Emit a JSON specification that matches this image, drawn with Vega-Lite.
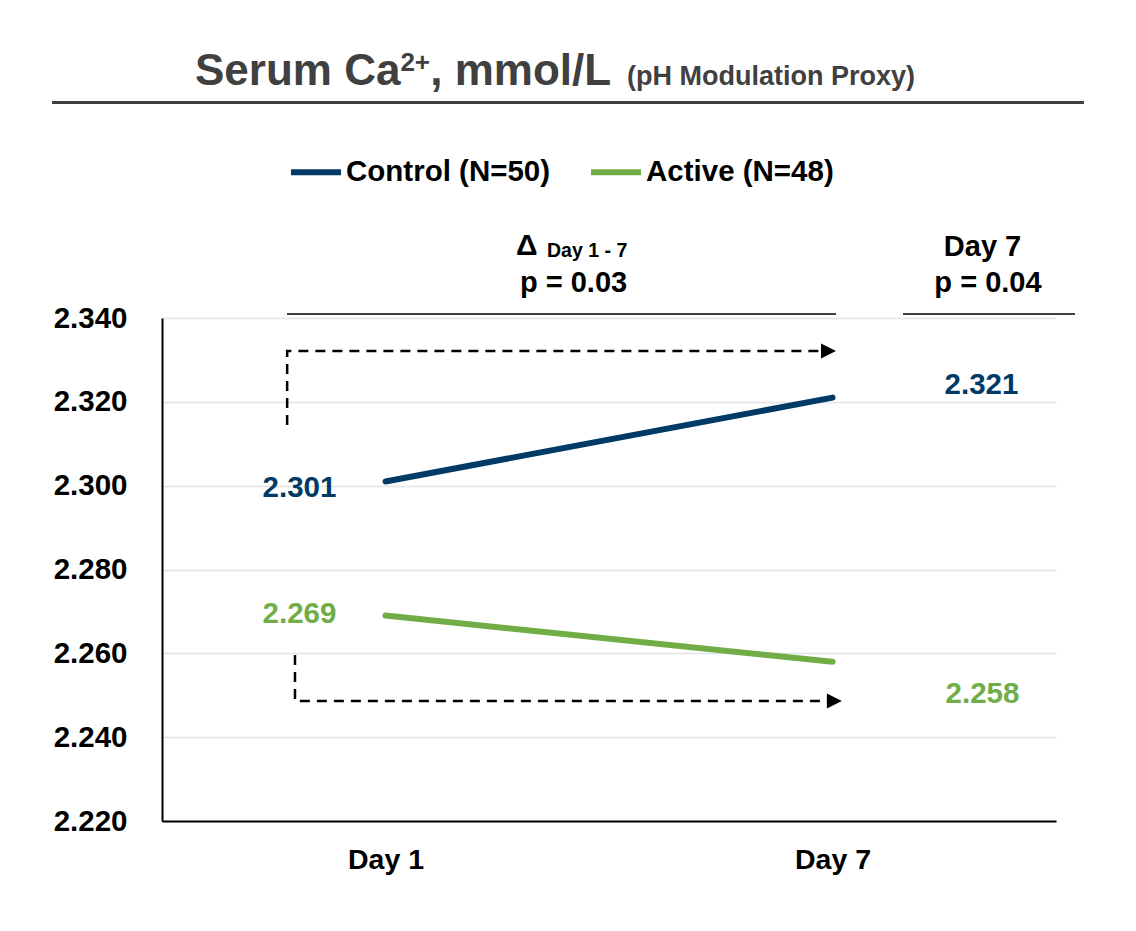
{
  "$schema": "https://vega.github.io/schema/vega-lite/v6.json",
  "width": 894,
  "height": 503,
  "autosize": {"type": "none"},
  "padding": {"left": 162, "top": 318, "right": 80, "bottom": 110},
  "background": "white",
  "config": {"view": {"stroke": null}, "font": "Liberation Sans"},
  "datasets": {
    "series": [
      {"group": "Control (N=50)", "day": 1, "value": 2.301},
      {"group": "Control (N=50)", "day": 7, "value": 2.321},
      {"group": "Active (N=48)", "day": 1, "value": 2.269},
      {"group": "Active (N=48)", "day": 7, "value": 2.258}
    ],
    "arrows": [
      {"arrow": "up", "step": 1, "x": -0.32, "y": 2.3145},
      {"arrow": "up", "step": 2, "x": -0.32, "y": 2.3321},
      {"arrow": "up", "step": 3, "x": 6.86, "y": 2.3321},
      {"arrow": "down", "step": 1, "x": -0.215, "y": 2.2596},
      {"arrow": "down", "step": 2, "x": -0.215, "y": 2.2486},
      {"arrow": "down", "step": 3, "x": 6.93, "y": 2.2486}
    ],
    "heads": [
      {"arrow": "up", "x": 6.946, "y": 2.3321},
      {"arrow": "down", "x": 7.025, "y": 2.2486}
    ],
    "rules": [
      {"role": "title", "x": -3.477, "x2": 10.376, "y": 2.39141},
      {"role": "header", "x": -0.322, "x2": 7.047, "y": 2.34095},
      {"role": "header", "x": 7.946, "x2": 10.255, "y": 2.34095}
    ],
    "notes": [
      {"role": "title", "label": "Serum Ca", "x": -1.557, "y": 2.39558},
      {"role": "sup", "label": "2+", "x": 1.2, "y": 2.3989},
      {"role": "title", "label": ", mmol/L", "x": 1.6, "y": 2.39558},
      {"role": "subtitle", "label": "(pH Modulation Proxy)", "x": 4.242, "y": 2.39558},
      {"role": "delta", "label": "Δ", "x": 2.752, "y": 2.35503},
      {"role": "sub", "label": "Day 1 - 7", "x": 3.168, "y": 2.35455},
      {"role": "header", "label": "p = 0.03", "x": 3.524, "y": 2.3462},
      {"role": "header", "label": "Day 7", "x": 9.014, "y": 2.35479},
      {"role": "header", "label": "p = 0.04", "x": 9.087, "y": 2.3462}
    ]
  },
  "layer": [
    {
      "data": {"name": "series"},
      "mark": {"type": "line", "strokeWidth": 6, "strokeCap": "round"},
      "encoding": {
        "x": {
          "field": "day", "type": "quantitative", "title": null,
          "scale": {"domain": [-2, 10], "zero": false, "nice": false},
          "axis": {
            "values": [1, 7], "labelExpr": "'Day ' + datum.value",
            "grid": false, "ticks": false, "domainColor": "black", "domainWidth": 2,
            "labelFont": "Liberation Sans", "labelFontWeight": "bold", "labelFontSize": 28.5,
            "labelColor": "black", "labelPadding": 24
          }
        },
        "y": {
          "field": "value", "type": "quantitative", "title": null,
          "scale": {"domain": [2.22, 2.34], "zero": false, "nice": false},
          "axis": {
            "values": [2.22, 2.24, 2.26, 2.28, 2.3, 2.32, 2.34], "format": ".3f",
            "grid": true, "gridColor": "#e3e3e3", "gridWidth": 1.5,
            "ticks": false, "domainColor": "black", "domainWidth": 2,
            "labelFont": "Liberation Sans", "labelFontWeight": "bold", "labelFontSize": 29.5,
            "labelColor": "black", "labelPadding": 35
          }
        },
        "color": {
          "field": "group", "type": "nominal",
          "scale": {"domain": ["Control (N=50)", "Active (N=48)"], "range": ["#003A66", "#70AD47"]},
          "legend": {
            "orient": "none", "legendX": 126, "legendY": -174, "direction": "horizontal",
            "title": null, "symbolType": "stroke", "symbolSize": 2500, "symbolStrokeWidth": 6,
            "labelFont": "Liberation Sans", "labelFontWeight": "bold", "labelFontSize": 29.5,
            "labelColor": "black", "labelOffset": 2, "labelLimit": 400, "columnPadding": 28, "padding": 0
          }
        }
      }
    },
    {
      "data": {"name": "series"},
      "transform": [{"filter": "datum.group == 'Control (N=50)' && datum.day == 1"}],
      "mark": {"type": "text", "font": "Liberation Sans", "fontWeight": "bold", "fontSize": 29.5, "color": "#003A66", "align": "center", "baseline": "middle", "dx": -86, "dy": 7},
      "encoding": {
        "x": {"field": "day", "type": "quantitative", "title": null},
        "y": {"field": "value", "type": "quantitative", "title": null},
        "text": {"field": "value", "type": "quantitative", "format": ".3f"}
      }
    },
    {
      "data": {"name": "series"},
      "transform": [{"filter": "datum.group == 'Active (N=48)' && datum.day == 1"}],
      "mark": {"type": "text", "font": "Liberation Sans", "fontWeight": "bold", "fontSize": 29.5, "color": "#70AD47", "align": "center", "baseline": "middle", "dx": -86, "dy": -2},
      "encoding": {
        "x": {"field": "day", "type": "quantitative", "title": null},
        "y": {"field": "value", "type": "quantitative", "title": null},
        "text": {"field": "value", "type": "quantitative", "format": ".3f"}
      }
    },
    {
      "data": {"name": "series"},
      "transform": [{"filter": "datum.group == 'Control (N=50)' && datum.day == 7"}],
      "mark": {"type": "text", "font": "Liberation Sans", "fontWeight": "bold", "fontSize": 29.5, "color": "#003A66", "align": "center", "baseline": "middle", "dx": 149, "dy": -13},
      "encoding": {
        "x": {"field": "day", "type": "quantitative", "title": null},
        "y": {"field": "value", "type": "quantitative", "title": null},
        "text": {"field": "value", "type": "quantitative", "format": ".3f"}
      }
    },
    {
      "data": {"name": "series"},
      "transform": [{"filter": "datum.group == 'Active (N=48)' && datum.day == 7"}],
      "mark": {"type": "text", "font": "Liberation Sans", "fontWeight": "bold", "fontSize": 29.5, "color": "#70AD47", "align": "center", "baseline": "middle", "dx": 150, "dy": 32},
      "encoding": {
        "x": {"field": "day", "type": "quantitative", "title": null},
        "y": {"field": "value", "type": "quantitative", "title": null},
        "text": {"field": "value", "type": "quantitative", "format": ".3f"}
      }
    },
    {
      "data": {"name": "arrows"},
      "mark": {"type": "line", "color": "black", "strokeWidth": 2.5, "strokeDash": [10, 7]},
      "encoding": {
        "x": {"field": "x", "type": "quantitative", "title": null},
        "y": {"field": "y", "type": "quantitative", "title": null},
        "detail": {"field": "arrow"},
        "order": {"field": "step", "type": "quantitative"}
      }
    },
    {
      "data": {"name": "heads"},
      "mark": {"type": "point", "shape": "M-1,-1L1,0L-1,1Z", "size": 225, "filled": true, "color": "black", "opacity": 1},
      "encoding": {
        "x": {"field": "x", "type": "quantitative", "title": null},
        "y": {"field": "y", "type": "quantitative", "title": null}
      }
    },
    {
      "data": {"name": "rules"},
      "transform": [{"filter": "datum.role == 'title'"}],
      "mark": {"type": "rule", "color": "#404040", "strokeWidth": 3},
      "encoding": {
        "x": {"field": "x", "type": "quantitative", "title": null},
        "x2": {"field": "x2"},
        "y": {"field": "y", "type": "quantitative", "title": null}
      }
    },
    {
      "data": {"name": "rules"},
      "transform": [{"filter": "datum.role == 'header'"}],
      "mark": {"type": "rule", "color": "black", "strokeWidth": 1.5},
      "encoding": {
        "x": {"field": "x", "type": "quantitative", "title": null},
        "x2": {"field": "x2"},
        "y": {"field": "y", "type": "quantitative", "title": null}
      }
    },
    {
      "data": {"name": "notes"},
      "transform": [{"filter": "datum.role == 'title'"}],
      "mark": {"type": "text", "font": "Liberation Sans", "fontWeight": "bold", "fontSize": 44, "color": "#404040", "align": "left", "baseline": "alphabetic"},
      "encoding": {
        "x": {"field": "x", "type": "quantitative", "title": null},
        "y": {"field": "y", "type": "quantitative", "title": null},
        "text": {"field": "label"}
      }
    },
    {
      "data": {"name": "notes"},
      "transform": [{"filter": "datum.role == 'sup'"}],
      "mark": {"type": "text", "font": "Liberation Sans", "fontWeight": "bold", "fontSize": 26, "color": "#404040", "align": "left", "baseline": "alphabetic"},
      "encoding": {
        "x": {"field": "x", "type": "quantitative", "title": null},
        "y": {"field": "y", "type": "quantitative", "title": null},
        "text": {"field": "label"}
      }
    },
    {
      "data": {"name": "notes"},
      "transform": [{"filter": "datum.role == 'subtitle'"}],
      "mark": {"type": "text", "font": "Liberation Sans", "fontWeight": "bold", "fontSize": 27, "color": "#404040", "align": "left", "baseline": "alphabetic"},
      "encoding": {
        "x": {"field": "x", "type": "quantitative", "title": null},
        "y": {"field": "y", "type": "quantitative", "title": null},
        "text": {"field": "label"}
      }
    },
    {
      "data": {"name": "notes"},
      "transform": [{"filter": "datum.role == 'delta'"}],
      "mark": {"type": "text", "font": "Liberation Sans", "fontWeight": "bold", "fontSize": 30, "color": "black", "align": "left", "baseline": "alphabetic"},
      "encoding": {
        "x": {"field": "x", "type": "quantitative", "title": null},
        "y": {"field": "y", "type": "quantitative", "title": null},
        "text": {"field": "label"}
      }
    },
    {
      "data": {"name": "notes"},
      "transform": [{"filter": "datum.role == 'sub'"}],
      "mark": {"type": "text", "font": "Liberation Sans", "fontWeight": "bold", "fontSize": 19.5, "color": "black", "align": "left", "baseline": "alphabetic"},
      "encoding": {
        "x": {"field": "x", "type": "quantitative", "title": null},
        "y": {"field": "y", "type": "quantitative", "title": null},
        "text": {"field": "label"}
      }
    },
    {
      "data": {"name": "notes"},
      "transform": [{"filter": "datum.role == 'header'"}],
      "mark": {"type": "text", "font": "Liberation Sans", "fontWeight": "bold", "fontSize": 29, "color": "black", "align": "center", "baseline": "alphabetic"},
      "encoding": {
        "x": {"field": "x", "type": "quantitative", "title": null},
        "y": {"field": "y", "type": "quantitative", "title": null},
        "text": {"field": "label"}
      }
    }
  ]
}
